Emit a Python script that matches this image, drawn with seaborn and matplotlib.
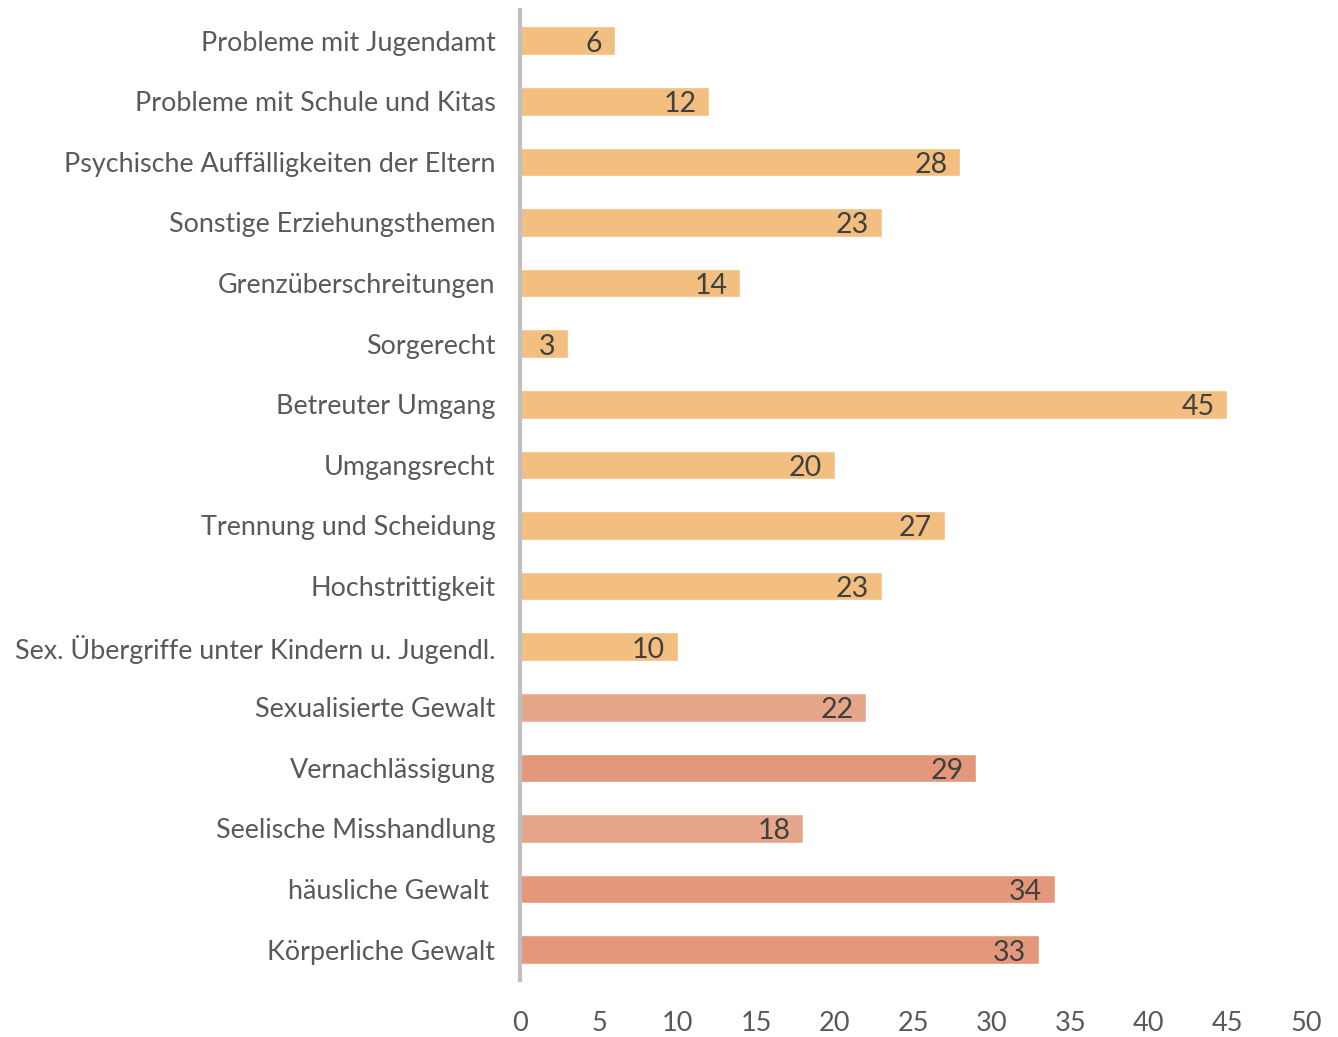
import pandas as pd
import matplotlib.pyplot as plt
import seaborn as sns

# Data (top to bottom)
categories = [
    'Probleme mit Jugendamt',
    'Probleme mit Schule und Kitas',
    'Psychische Auffälligkeiten der Eltern',
    'Sonstige Erziehungsthemen',
    'Grenzüberschreitungen',
    'Sorgerecht',
    'Betreuter Umgang',
    'Umgangsrecht',
    'Trennung und Scheidung',
    'Hochstrittigkeit',
    'Sex. Übergriffe unter Kindern u. Jugendl.',
    'Sexualisierte Gewalt',
    'Vernachlässigung',
    'Seelische Misshandlung',
    'häusliche Gewalt ',
    'Körperliche Gewalt',
]
counts = [6, 12, 28, 23, 14, 3, 45, 20, 27, 23, 10, 22, 29, 18, 34, 33]
bar_colors = ['#F3BF80'] * 11 + ['#E6A689', '#E3987B', '#E6A68B', '#E3977B', '#E3987B']
x_ticks = [0, 5, 10, 15, 20, 25, 30, 35, 40, 45, 50]

df = pd.DataFrame({'category': categories, 'count': counts})

sns.set_style('white')
plt.rcParams['font.family'] = ['Lato', 'DejaVu Sans']

fig = plt.figure(figsize=(13.38, 10.37), dpi=100)
ax = fig.add_axes([0.389, 0.055, 0.587, 0.935])

sns.barplot(data=df, x='count', y='category', hue='category',
            palette=bar_colors, legend=False, width=0.47,
            orient='h', ax=ax, saturation=1)

# value labels inside bar ends
for i, v in enumerate(counts):
    ax.text(v - 0.8, i + 0.05, str(v), ha='right', va='center',
            fontsize=20.5, color='#404040')

ax.set_xlim(0, 50)
ax.set_ylim(15.5, -0.5)
ax.set_xticks(x_ticks)
ax.set_xlabel('')
ax.set_ylabel('')
ax.tick_params(axis='x', length=0, labelsize=19.5, labelcolor='#595959', pad=22)
ax.tick_params(axis='y', length=0, labelsize=19.4, labelcolor='#595959', pad=18)

for side in ['top', 'right', 'bottom']:
    ax.spines[side].set_visible(False)
ax.spines['left'].set_color('#BFBFBF')
ax.spines['left'].set_linewidth(3)

plt.savefig('out.png', dpi=100)
